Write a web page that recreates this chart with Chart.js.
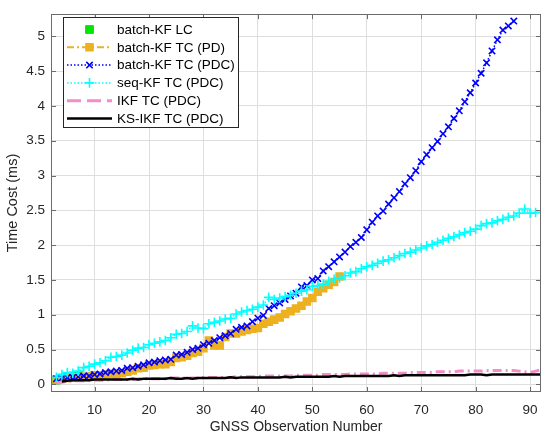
<!DOCTYPE html>
<html>
<head>
<meta charset="utf-8">
<script src="https://cdn.jsdelivr.net/npm/chart.js@4.4.1/dist/chart.umd.min.js"></script>
<style>
  html, body { margin: 0; padding: 0; background: #fff; }
  #wrap { width: 550px; height: 440px; }
</style>
</head>
<body>
<div id="wrap"><canvas id="timeChart" width="550" height="440"></canvas></div>
<script>
// ** Data
const obsNum = [3, 4, 5, 6, 7, 8, 9, 10, 11, 12, 13, 14, 15, 16, 17, 18, 19, 20, 21, 22,
  23, 24, 25, 26, 27, 28, 29, 30, 31, 32, 33, 34, 35, 36, 37, 38, 39, 40, 41, 42,
  43, 44, 45, 46, 47, 48, 49, 50, 51, 52, 53, 54, 55, 56, 57, 58, 59, 60, 61, 62,
  63, 64, 65, 66, 67, 68, 69, 70, 71, 72, 73, 74, 75, 76, 77, 78, 79, 80, 81, 82,
  83, 84, 85, 86, 87, 88, 89, 90, 91, 92]

const batchLC = [0.06, 0.09, 0.11, 0.12, 0.13]

const batchPD = [0.07, 0.08, 0.09, 0.10, 0.10, 0.11, 0.12, 0.13, 0.13, 0.14,
  0.15, 0.15, 0.16, 0.18, 0.20, 0.23, 0.24, 0.27, 0.28, 0.29,
  0.29, 0.32, 0.38, 0.39, 0.41, 0.45, 0.47, 0.52, 0.63, 0.56,
  0.56, 0.68, 0.73, 0.73, 0.76, 0.78, 0.80, 0.81, 0.87, 0.90,
  0.93, 0.96, 1.01, 1.05, 1.09, 1.13, 1.19, 1.24, 1.33, 1.38,
  1.43, 1.47, 1.55]

const batchPDC = [0.08, 0.09, 0.10, 0.10, 0.11, 0.12, 0.12, 0.14, 0.15, 0.17,
  0.18, 0.19, 0.20, 0.23, 0.24, 0.26, 0.28, 0.31, 0.32, 0.34,
  0.35, 0.36, 0.42, 0.43, 0.46, 0.50, 0.52, 0.57, 0.59, 0.63,
  0.67, 0.70, 0.73, 0.79, 0.82, 0.84, 0.90, 0.95, 0.99, 1.09,
  1.13, 1.17, 1.22, 1.27, 1.31, 1.40, 1.42, 1.50, 1.52, 1.63,
  1.69, 1.76, 1.83, 1.90, 1.98, 2.04, 2.11, 2.22, 2.33, 2.42,
  2.49, 2.59, 2.68, 2.77, 2.88, 2.97, 3.07, 3.20, 3.30, 3.40,
  3.49, 3.60, 3.70, 3.82, 3.93, 4.06, 4.19, 4.33, 4.47, 4.62,
  4.79, 4.95, 5.09, 5.15, 5.22]

const seqPDC = [0.10, 0.14, 0.17, 0.16, 0.19, 0.24, 0.26, 0.29, 0.31, 0.34,
  0.39, 0.40, 0.42, 0.45, 0.49, 0.52, 0.53, 0.57, 0.59, 0.61,
  0.63, 0.67, 0.72, 0.73, 0.76, 0.84, 0.81, 0.80, 0.87, 0.89,
  0.91, 0.94, 0.95, 1.01, 1.04, 1.06, 1.08, 1.11, 1.14, 1.25,
  1.22, 1.24, 1.26, 1.28, 1.31, 1.34, 1.36, 1.41, 1.42, 1.44,
  1.48, 1.51, 1.53, 1.56, 1.60, 1.62, 1.66, 1.69, 1.71, 1.74,
  1.77, 1.79, 1.82, 1.85, 1.88, 1.90, 1.93, 1.96, 1.99, 2.01,
  2.04, 2.07, 2.10, 2.12, 2.15, 2.18, 2.20, 2.23, 2.28, 2.31,
  2.32, 2.35, 2.37, 2.40, 2.42, 2.46, 2.52, 2.46, 2.47, 2.47]

const ikfPDC = [0.02, 0.03, 0.04, 0.05, 0.05, 0.05, 0.06, 0.06, 0.06, 0.06,
  0.07, 0.07, 0.07, 0.07, 0.07, 0.08, 0.08, 0.08, 0.08, 0.08,
  0.08, 0.09, 0.09, 0.09, 0.09, 0.09, 0.09, 0.10, 0.10, 0.10,
  0.10, 0.10, 0.10, 0.11, 0.11, 0.11, 0.11, 0.11, 0.12, 0.12,
  0.12, 0.12, 0.12, 0.12, 0.13, 0.13, 0.13, 0.13, 0.13, 0.14,
  0.14, 0.14, 0.14, 0.14, 0.15, 0.15, 0.15, 0.15, 0.15, 0.15,
  0.16, 0.16, 0.16, 0.16, 0.16, 0.17, 0.17, 0.17, 0.17, 0.17,
  0.18, 0.18, 0.18, 0.18, 0.19, 0.19, 0.19, 0.19, 0.19, 0.20,
  0.20, 0.20, 0.20, 0.20, 0.20, 0.19, 0.18, 0.17, 0.19, 0.21]

const ksIkfPDC = [0.04, 0.05, 0.06, 0.06, 0.06, 0.06, 0.07, 0.07, 0.07, 0.07,
  0.07, 0.07, 0.07, 0.08, 0.07, 0.08, 0.08, 0.08, 0.08, 0.08,
  0.09, 0.08, 0.08, 0.09, 0.08, 0.09, 0.09, 0.09, 0.09, 0.09,
  0.09, 0.10, 0.09, 0.10, 0.10, 0.10, 0.10, 0.10, 0.10, 0.10,
  0.10, 0.11, 0.10, 0.11, 0.11, 0.11, 0.11, 0.11, 0.11, 0.11,
  0.12, 0.11, 0.12, 0.12, 0.12, 0.12, 0.12, 0.12, 0.12, 0.12,
  0.12, 0.13, 0.12, 0.13, 0.13, 0.13, 0.13, 0.13, 0.13, 0.13,
  0.13, 0.13, 0.13, 0.13, 0.13, 0.14, 0.14, 0.14, 0.13, 0.14,
  0.14, 0.14, 0.14, 0.14, 0.14, 0.14, 0.14, 0.14, 0.14]

const xTicks = [10, 20, 30, 40, 50, 60, 70, 80, 90]
const yTicks = [0, 0.5, 1, 1.5, 2, 2.5, 3, 3.5, 4, 4.5, 5]

const FONT = '"Liberation Sans", Arial, Helvetica, sans-serif'
const AXIS_COLOR = '#262626'

// pair x values (starting at a given observation number) with y values
const pts = (startX, vals) => {
  const i0 = obsNum.indexOf(startX)
  return vals.map((v, i) => ({ x: obsNum[i0 + i], y: v }))
}

// ** MATLAB-like box with inward ticks
const boxPlugin = {
  id: 'box',
  afterDraw(chart) {
    const { ctx, chartArea: a, scales } = chart
    ctx.save()
    ctx.strokeStyle = '#6b6b6b'
    ctx.lineWidth = 1
    ctx.beginPath()
    xTicks.forEach(v => {
      const px = Math.round(scales.x.getPixelForValue(v)) + 0.5
      ctx.moveTo(px, a.bottom); ctx.lineTo(px, a.bottom - 5)
      ctx.moveTo(px, a.top); ctx.lineTo(px, a.top + 5)
    })
    yTicks.forEach(v => {
      const py = Math.round(scales.y.getPixelForValue(v)) + 0.5
      ctx.moveTo(a.left, py); ctx.lineTo(a.left + 5, py)
      ctx.moveTo(a.right, py); ctx.lineTo(a.right - 5, py)
    })
    ctx.stroke()
    ctx.strokeRect(Math.round(a.left) + 0.5, Math.round(a.top) + 0.5,
      Math.round(a.right - a.left) - 1, Math.round(a.bottom - a.top) - 1)
    ctx.restore()
  }
}

// ** Legend drawn like the MATLAB one (line sample + marker + text)
const legendPlugin = {
  id: 'matLegend',
  afterDraw(chart) {
    const { ctx } = chart
    const bx = 63.5, by = 17.5, bw = 175, bh = 110
    const rowH = 17.8, firstY = 29.5
    ctx.save()
    ctx.fillStyle = '#fff'
    ctx.fillRect(bx, by, bw, bh)
    ctx.strokeStyle = AXIS_COLOR
    ctx.lineWidth = 1
    ctx.strokeRect(bx, by, bw, bh)
    chart.data.datasets.forEach((ds, i) => {
      const y = firstY + i * rowH
      if (ds.showLine !== false) {
        ctx.save()
        ctx.strokeStyle = ds.borderColor
        ctx.lineWidth = ds.borderWidth
        ctx.setLineDash(ds.legendDash || ds.borderDash || [])
        ctx.beginPath()
        ctx.moveTo(67, y); ctx.lineTo(112, y)
        ctx.stroke()
        ctx.restore()
      }
      if (ds.pointRadius > 0) {
        ctx.save()
        ctx.fillStyle = ds.pointBackgroundColor
        ctx.strokeStyle = ds.pointBorderColor
        ctx.lineWidth = ds.pointBorderWidth
        Chart.helpers.drawPoint(ctx, {
          pointStyle: ds.pointStyle, radius: ds.pointRadius,
          borderWidth: ds.pointBorderWidth, rotation: 0
        }, 89.5, y)
        ctx.restore()
      }
      ctx.fillStyle = '#000'
      ctx.font = '13.5px ' + FONT
      ctx.textBaseline = 'middle'
      ctx.textAlign = 'left'
      ctx.fillText(ds.label, 117, y + 0.5)
    })
    ctx.restore()
  }
}

const ctx = document.getElementById('timeChart').getContext('2d')
const timeChart = new Chart(ctx, {
  type: 'line',
  data: {
    datasets: [
      {
        label: 'batch-KF LC',
        data: pts(3, batchLC),
        showLine: false,
        borderColor: '#00e600',
        borderWidth: 0,
        pointStyle: 'rect',
        pointRadius: 5.5,
        pointBorderWidth: 1,
        pointBackgroundColor: '#00e600',
        pointBorderColor: '#00e600',
        order: 6
      },
      {
        label: 'batch-KF TC (PD)',
        data: pts(3, batchPD),
        borderColor: '#edb120',
        borderWidth: 2,
        borderDash: [7, 3, 2, 3],
        pointStyle: 'rect',
        pointRadius: 5,
        pointBorderWidth: 1.5,
        pointBackgroundColor: '#edb120',
        pointBorderColor: '#edb120',
        order: 5
      },
      {
        label: 'batch-KF TC (PDC)',
        data: pts(3, batchPDC),
        borderColor: '#0000ff',
        borderWidth: 1.5,
        borderDash: [1.5, 2],
        pointStyle: 'crossRot',
        pointRadius: 4.5,
        pointBorderWidth: 1.6,
        pointBackgroundColor: '#0000ff',
        pointBorderColor: '#0000ff',
        order: 4
      },
      {
        label: 'seq-KF TC (PDC)',
        data: pts(3, seqPDC),
        borderColor: '#00ffff',
        borderWidth: 1.5,
        borderDash: [1.5, 2],
        pointStyle: 'cross',
        pointRadius: 4.8,
        pointBorderWidth: 1.6,
        pointBackgroundColor: '#00ffff',
        pointBorderColor: '#00ffff',
        order: 3
      },
      {
        label: 'IKF TC (PDC)',
        data: pts(3, ikfPDC),
        borderColor: '#f48cc8',
        borderWidth: 3,
        borderDash: [9, 4, 2, 4],
        legendDash: [14, 6],
        pointRadius: 0,
        order: 2
      },
      {
        label: 'KS-IKF TC (PDC)',
        data: pts(4, ksIkfPDC),
        borderColor: '#000000',
        borderWidth: 2.5,
        pointRadius: 0,
        order: 1
      }
    ]
  },
  options: {
    responsive: false,
    devicePixelRatio: 1,
    animation: false,
    layout: { padding: { left: 0, right: 9, top: 5, bottom: 0 } },
    elements: { line: { tension: 0, fill: false } },
    plugins: { legend: { display: false }, tooltip: { enabled: false } },
    scales: {
      x: {
        type: 'linear',
        min: 2,
        max: 92,
        afterBuildTicks: scale => { scale.ticks = xTicks.map(v => ({ value: v })) },
        afterFit: scale => { scale.height = 48 },
        grid: { color: '#dedede', drawTicks: false },
        border: { display: false },
        ticks: { font: { family: FONT, size: 13.5 }, color: AXIS_COLOR, padding: 10, maxRotation: 0 },
        title: {
          display: true,
          text: 'GNSS Observation Number',
          font: { family: FONT, size: 14 },
          color: AXIS_COLOR,
          padding: { top: 0, bottom: 4 }
        }
      },
      y: {
        min: -0.11,
        max: 5.32,
        afterBuildTicks: scale => { scale.ticks = yTicks.map(v => ({ value: v })) },
        afterFit: scale => { scale.width = 51 },
        grid: { color: '#dedede', drawTicks: false },
        border: { display: false },
        ticks: {
          font: { family: FONT, size: 13.5 },
          color: AXIS_COLOR,
          padding: 6,
          callback: v => String(v)
        },
        title: {
          display: true,
          text: 'Time Cost (ms)',
          font: { family: FONT, size: 14.5 },
          color: AXIS_COLOR,
          padding: { top: 4, bottom: 0 }
        }
      }
    }
  },
  plugins: [boxPlugin, legendPlugin]
})
</script>
</body>
</html>
